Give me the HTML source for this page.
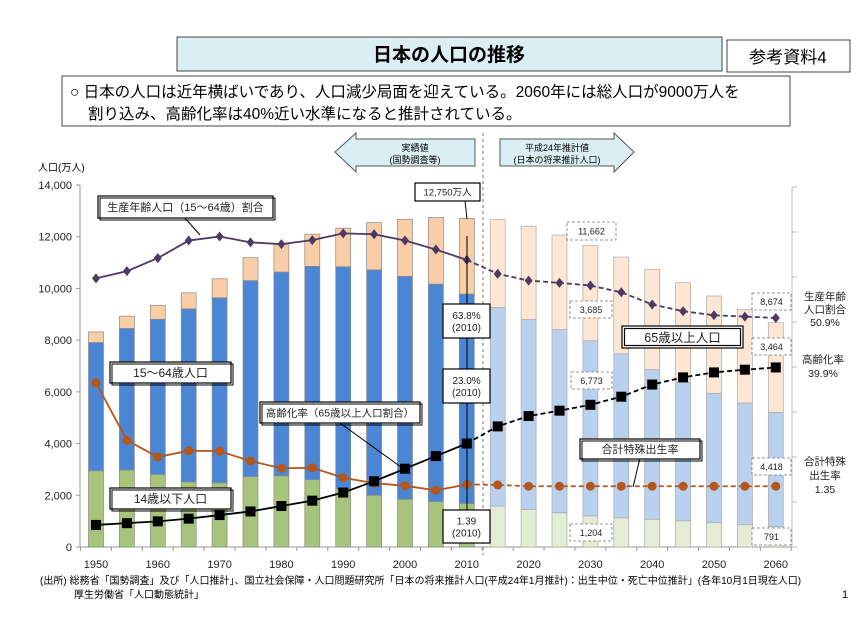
<!DOCTYPE html>
<html><head><meta charset="utf-8">
<style>
body{margin:0;background:#fff;width:864px;height:615px;overflow:hidden;font-family:"Liberation Sans","Noto Sans CJK JP",sans-serif;}
svg text{font-family:"Liberation Sans","Noto Sans CJK JP",sans-serif;}
</style></head>
<body>
<svg id="c" width="864" height="615" xmlns="http://www.w3.org/2000/svg">
<rect x="177" y="37" width="545" height="34" fill="#dbeef4" stroke="#444" stroke-width="1"/>
<text x="449" y="61" font-size="19" font-weight="bold" text-anchor="middle">日本の人口の推移</text>
<rect x="727" y="40" width="123" height="32" fill="#fff" stroke="#444"/>
<text x="788" y="63" font-size="17" text-anchor="middle">参考資料4</text>
<rect x="62" y="76" width="728" height="50" fill="#fff" stroke="#444"/>
<text x="70" y="97" font-size="15.5">○ 日本の人口は近年横ばいであり、人口減少局面を迎えている。2060年には総人口が9000万人を</text>
<text x="88" y="119" font-size="15.5">割り込み、高齢化率は40%近い水準になると推計されている。</text>
<polygon points="335,152 356,133 356,139 475,139 475,166 356,166 356,172" fill="#dbeef4" stroke="#555"/>
<text x="415" y="151" font-size="9" text-anchor="middle">実績値</text>
<text x="415" y="163" font-size="9" text-anchor="middle">(国勢調査等)</text>
<polygon points="500,139 614,139 614,133 634,152 614,172 614,166 500,166" fill="#dbeef4" stroke="#555"/>
<text x="557" y="151" font-size="9" text-anchor="middle">平成24年推計値</text>
<text x="557" y="163" font-size="9" text-anchor="middle">(日本の将来推計人口)</text>
<text x="38" y="171" font-size="10">人口(万人)</text>
<g id="g"></g>
<text x="40" y="584" font-size="10">(出所) 総務省「国勢調査」及び「人口推計」、国立社会保障・人口問題研究所「日本の将来推計人口(平成24年1月推計)：出生中位・死亡中位推計」(各年10月1日現在人口)</text>
<text x="74" y="598" font-size="10">厚生労働省「人口動態統計」</text>
<text x="842" y="598" font-size="11">1</text>
</svg>
<script>
const years=[1950,1955,1960,1965,1970,1975,1980,1985,1990,1995,2000,2005,2010,2015,2020,2025,2030,2035,2040,2045,2050,2055,2060];
const pop0_14=[2943,2980,2807,2517,2482,2722,2751,2603,2249,2001,1847,1759,1680,1583,1457,1324,1204,1129,1073,1012,939,861,791];
const pop15_64=[4966,5473,6000,6693,7157,7581,7883,8251,8590,8717,8622,8409,8103,7682,7341,7085,6773,6343,5787,5353,5001,4706,4418];
const pop65=[411,475,535,618,733,887,1065,1247,1493,1828,2204,2576,2925,3395,3612,3657,3685,3741,3868,3856,3768,3626,3464];
const workRatio=[59.7,61.3,64.2,68.1,69.0,67.7,67.3,68.2,69.7,69.5,68.1,66.1,63.8,60.7,59.2,58.7,58.1,56.6,53.9,52.4,51.5,51.2,50.9];
const agingRate=[4.9,5.3,5.7,6.3,7.1,7.9,9.1,10.3,12.1,14.6,17.4,20.2,23.0,26.8,29.1,30.3,31.6,33.4,36.1,37.7,38.8,39.4,39.9];
const fertility=[3.65,2.37,2.00,2.14,2.13,1.91,1.75,1.76,1.54,1.42,1.36,1.26,1.39,1.38,1.35,1.35,1.35,1.35,1.35,1.35,1.35,1.35,1.35];
const yTicks=[0,2000,4000,6000,8000,10000,12000,14000];
const yTickLabels=["0","2,000","4,000","6,000","8,000","10,000","12,000","14,000"];
const xLabels=[1950,1960,1970,1980,1990,2000,2010,2020,2030,2040,2050,2060];
const lastActual=2010;

const NS="http://www.w3.org/2000/svg";
const g=document.getElementById('g');
function mk(t,a,p){const e=document.createElementNS(NS,t);for(const k in a)e.setAttribute(k,a[k]);(p||g).appendChild(e);return e;}
const X0=80,X1=792,Y0=547,Ytop=185;
const xs=y=>96+(y-1950)/5*30.9;
const yL=v=>Y0-v*(Y0-Ytop)/14000;
const yR=p=>Y0-p*(Y0-187)/80;
const yF=f=>yR(f*10);

// axes
let e=mk('line',{x1:X0,y1:Ytop,x2:X0,y2:Y0,stroke:'#999'});

e=mk('line',{x1:X1,y1:187,x2:X1,y2:Y0,stroke:'#bbb'});

for(let i=0;i<=8;i++){e=mk('line',{x1:X1,y1:yR(i*10),x2:X1+5,y2:yR(i*10),stroke:'#bbb'});
}
yTicks.forEach((v,i)=>{
 e=mk('line',{x1:X0-4,y1:yL(v),x2:X0,y2:yL(v),stroke:'#999'});
 
 e=mk('text',{x:X0-8,y:yL(v)+4,'font-size':11,'text-anchor':'end',fill:'#222'});e.textContent=yTickLabels[i];
 
});
e=mk('line',{x1:X0,y1:Y0,x2:X1,y2:Y0,stroke:'#999'});

for(let i=0;i<=years.length;i++){const x=xs(1950)-15.45+i*30.9;
 e=mk('line',{x1:x,y1:Y0,x2:x,y2:Y0+4,stroke:'#999'});
 }
xLabels.forEach(y=>{e=mk('text',{x:xs(y),y:Y0+21,'font-size':11,'text-anchor':'middle',fill:'#222'});e.textContent=y;
 });
e=mk('line',{x1:483,y1:133,x2:483,y2:555,stroke:'#777','stroke-dasharray':'3,3'});


// bars
years.forEach((y,i)=>{
 const past=y<=lastActual, x=xs(y)-7.5, w=15;
 const segs=[[pop0_14[i],past?'#a8c47c':'#e4ecd6','bar-age-0-14'],[pop15_64[i],past?'#4a86d3':'#b9d1ef','bar-age-15-64'],[pop65[i],past?'#f9cda5':'#fde6d4','bar-age-65-plus']];
 let base=0;
 segs.forEach(s=>{e=mk('rect',{x:x,y:yL(base+s[0]),width:w,height:yL(base)-yL(base+s[0]),fill:s[1],stroke:past?'#8a8a8a':'#aaa','stroke-width':0.7});
  base+=s[0];});
});

// lines
function series(vals,fy,col,name,marker){
 const pts=years.map((y,i)=>[xs(y),fy(vals[i])]);
 const k=years.indexOf(lastActual);
 e=mk('polyline',{points:pts.slice(0,k+1).map(p=>p.join(',')).join(' '),fill:'none',stroke:col,'stroke-width':1.8});
 
 e=mk('polyline',{points:pts.slice(k).map(p=>p.join(',')).join(' '),fill:'none',stroke:col,'stroke-width':1.8,'stroke-dasharray':'5,3'});
 
 pts.forEach(p=>{
  if(marker==='sq')e=mk('rect',{x:p[0]-5,y:p[1]-5,width:10,height:10,fill:'#000'});
  else if(marker==='di')e=mk('polygon',{points:`${p[0]},${p[1]-5} ${p[0]+4},${p[1]} ${p[0]},${p[1]+5} ${p[0]-4},${p[1]}`,fill:col});
  else e=mk('circle',{cx:p[0],cy:p[1],r:4.5,fill:col});
  
 });
}
series(fertility,yF,'#b5561a','fertility-rate','ci');
series(agingRate,yR,'#000','aging-rate','sq');
series(workRatio,yR,'#4b3a66','working-age-ratio','di');

// callouts
function box(x,y,w,h,lines,fs,name,opt){opt=opt||{};
 const r=mk('rect',{x:x,y:y,width:w,height:h,fill:'#fff',stroke:opt.dash?'#777':'#000','stroke-width':opt.dash?0.8:1.2,'stroke-dasharray':opt.dash?'3,2':'none'});
 
 if(opt.shadow){const s=mk('rect',{x:x+2,y:y+2,width:w,height:h,fill:'none',stroke:'#000','stroke-width':1});}
 if(opt.dbl){const s=mk('rect',{x:x+2.5,y:y+2.5,width:w-5,height:h-5,fill:'none',stroke:'#000','stroke-width':1.2});}
 lines.forEach((t,i)=>{const tx=mk('text',{x:x+w/2,y:y+h/2+fs*0.38+(i-(lines.length-1)/2)*fs*1.2,'font-size':fs,'text-anchor':'middle',fill:'#222'});tx.textContent=t;
  });
}
function lead(x1,y1,x2,y2,name){e=mk('line',{x1,y1,x2,y2,stroke:'#000','stroke-width':1});}
lead(185,218,200,235,'working-ratio-leader');
lead(340,423,405,470,'aging-rate-leader');
lead(465,201,467,219,'total-2010-leader');
lead(467,236,467,304,'ratio-2010-leader');
lead(467,338,467,369,'aging-2010-leader');
lead(467,403,467,510,'fertility-2010-leader');
lead(640,458,633,487,'fertility-leader');
box(98,196,175,22,['生産年齢人口（15～64歳）割合'],11,'working-ratio-callout',{shadow:1});
box(110,362,121,21,['15～64歳人口'],12,'age-15-64-callout',{shadow:1});
box(110,488,121,21,['14歳以下人口'],12,'age-0-14-callout',{shadow:1});
box(260,402,160,21,['高齢化率（65歳以上人口割合）'],10.5,'aging-rate-callout',{shadow:1});
box(415,183,65,18,['12,750万人'],9.5,'total-2010-callout');
box(443,304,47,34,['63.8%','(2010)'],10,'ratio-2010-callout');
box(443,369,47,34,['23.0%','(2010)'],10,'aging-2010-callout');
box(443,510,47,33,['1.39','(2010)'],10,'fertility-2010-callout');
box(622,326,121,22,['65歳以上人口'],12.5,'age-65-callout',{dbl:1});
box(580,439,120,20,['合計特殊出生率'],11,'fertility-callout',{shadow:1});
box(567,222,49,18,['11,662'],9,'total-2030-label',{dash:1});
box(570,301,42,17,['3,685'],9,'age65-2030-label',{dash:1});
box(571,372,41,17,['6,773'],9,'age15-2030-label',{dash:1});
box(570,524,42,17,['1,204'],9,'age0-2030-label',{dash:1});
box(752,293,39,17,['8,674'],9,'total-2060-label',{dash:1});
box(752,338,39,17,['3,464'],9,'age65-2060-label',{dash:1});
box(752,458,39,17,['4,418'],9,'age15-2060-label',{dash:1});
box(752,528,39,17,['791'],9,'age0-2060-label',{dash:1});
const rl=[[825,300,'生産年齢'],[825,313,'人口割合'],[825,326,'50.9%'],[823,363,'高齢化率'],[823,377,'39.9%'],[825,465,'合計特殊'],[825,479,'出生率'],[825,493,'1.35']];
rl.forEach(r=>{e=mk('text',{x:r[0],y:r[1],'font-size':10.5,'text-anchor':'middle',fill:'#222'});e.textContent=r[2];
 });
</script>
</body></html>
